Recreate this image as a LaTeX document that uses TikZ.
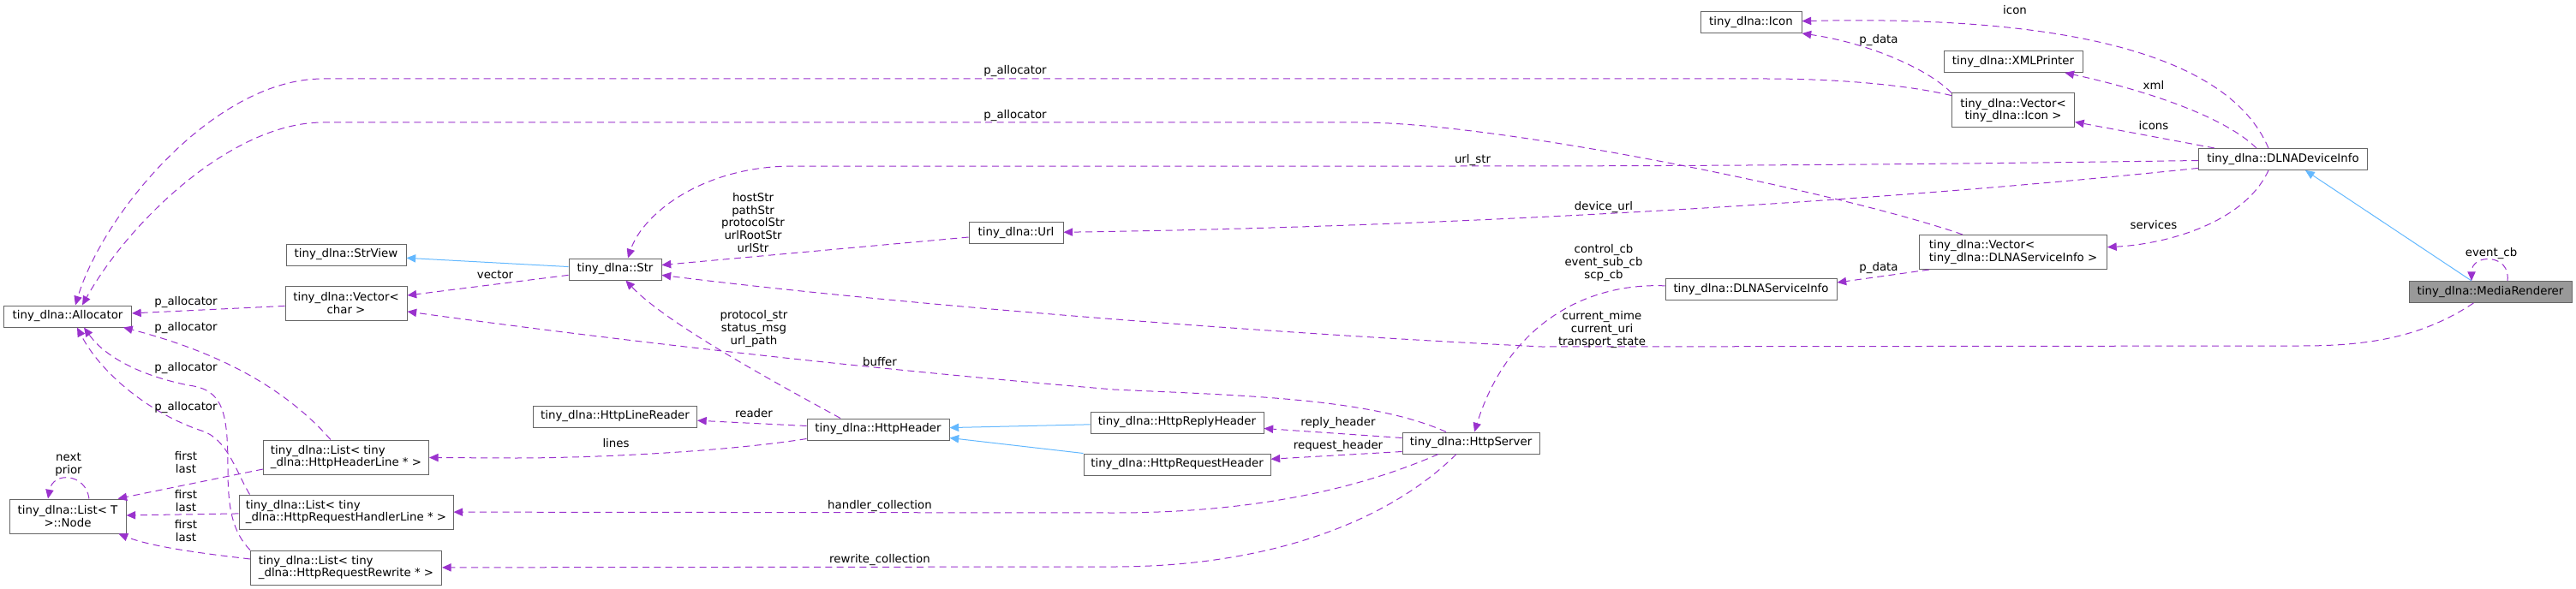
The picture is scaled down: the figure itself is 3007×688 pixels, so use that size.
\documentclass[tikz,border=0pt]{standalone}
\usepackage{fontspec}
\setmainfont{DejaVu Sans}
\usetikzlibrary{arrows.meta,calc}
\definecolor{usecol}{HTML}{9A32CD}
\definecolor{inhcol}{HTML}{63B8FF}
\definecolor{boxline}{HTML}{666666}
\definecolor{mainfill}{HTML}{999999}
\begin{document}
\begin{tikzpicture}[x=0.75pt,y=-0.75pt,
  font=\fontsize{10pt}{11pt}\selectfont,
  cls/.style={draw=boxline,fill=white,line width=0.75pt,inner sep=2pt,minimum height=18.75pt},
  cls2/.style={cls,minimum height=30pt},
  maincls/.style={cls,fill=mainfill},
  lbl/.style={inner sep=0pt,align=center},
  uses/.style={color=usecol,line width=0.75pt,dash pattern=on 6pt off 4pt,-{Triangle[length=8pt,width=7pt]}},
  inherit/.style={color=inhcol,line width=0.75pt,-{Triangle[length=8pt,width=7pt]}}]
 \useasboundingbox (0,0) rectangle (3007,688);
 % classes
 \node[cls,minimum width=111.75pt] (alloc) at (79,369.5) {tiny\_dlna::Allocator};
 \node[cls2,minimum width=102pt,align=center] (listnode) at (79,603) {tiny\_dlna::List< T\\>::Node};
 \node[cls,minimum width=105pt] (strview) at (404,297.5) {tiny\_dlna::StrView};
 \node[cls2,minimum width=106.5pt,align=center] (vecchar) at (404,354) {tiny\_dlna::Vector<\\char >};
 \node[cls2,minimum width=144.75pt,align=left] (listhdr) at (404,534) {tiny\_dlna::List< tiny\\\_dlna::HttpHeaderLine * >};
 \node[cls2,minimum width=187.5pt,align=left] (listhandler) at (404,598) {tiny\_dlna::List< tiny\\\_dlna::HttpRequestHandlerLine * >};
 \node[cls2,minimum width=167.25pt,align=left] (listrewrite) at (404,663) {tiny\_dlna::List< tiny\\\_dlna::HttpRequestRewrite * >};
 \node[cls,minimum width=81pt] (str) at (718,314.5) {tiny\_dlna::Str};
 \node[cls,minimum width=82.5pt] (url) at (1186,272) {tiny\_dlna::Url};
 \node[cls,minimum width=143.25pt] (linereader) at (718,486.5) {tiny\_dlna::HttpLineReader};
 \node[cls,minimum width=124.5pt] (header) at (1025,501.5) {tiny\_dlna::HttpHeader};
 \node[cls,minimum width=151.5pt] (replyhdr) at (1374,493.5) {tiny\_dlna::HttpReplyHeader};
 \node[cls,minimum width=163.5pt] (requesthdr) at (1374,542.5) {tiny\_dlna::HttpRequestHeader};
 \node[cls,minimum width=120pt] (server) at (1717,517.5) {tiny\_dlna::HttpServer};
 \node[cls,minimum width=150pt] (serviceinfo) at (2044,338) {tiny\_dlna::DLNAServiceInfo};
 \node[cls2,minimum width=164.25pt,align=left] (vecservice) at (2350,294.5) {tiny\_dlna::Vector<\\tiny\_dlna::DLNAServiceInfo >};
 \node[cls,minimum width=88.5pt] (icon) at (2044,26) {tiny\_dlna::Icon};
 \node[cls,minimum width=121.5pt] (xml) at (2350,72) {tiny\_dlna::XMLPrinter};
 \node[cls2,minimum width=107.25pt,align=center] (vecicon) at (2350,129) {tiny\_dlna::Vector<\\tiny\_dlna::Icon >};
 \node[cls,minimum width=147.75pt] (device) at (2665,186) {tiny\_dlna::DLNADeviceInfo};
 \node[maincls,minimum width=142.5pt] (renderer) at (2907,341) {tiny\_dlna::MediaRenderer};
 % inheritance
 \draw[inherit] ($(renderer.north)+(-22,0)$) -- ($(device.south)+(26,0)$);
 \draw[inherit] (str) -- (strview);
 \draw[inherit] (replyhdr) -- (header);
 \draw[inherit] (requesthdr.north west) -- ($(header.east)+(0,10)$);
 % members
 \draw[uses] (vecicon) .. controls (2230,100) and (2150,92) .. (2062,92) -- (377,92) .. controls (250,92) and (120,250) .. ($(alloc.north)+(9,0)$);
 \draw[uses] (vecservice) .. controls (2150,225) and (1750,143) .. (1587,143) -- (377,143) .. controls (270,143) and (150,260) .. ($(alloc.north)+(17,0)$);
 \draw[uses] (device) .. controls (2200,193) and (1900,194) .. (1700,194) -- (926,194) .. controls (820,194) and (750,250) .. ($(str.north)+(15,0)$);
 \draw[uses] (device) .. controls (2200,235) and (1700,265) .. (url);
 \draw[uses] ($(device.north)+(-17,0)$) .. controls (2600,60) and (2400,18) .. (icon);
 \draw[uses] (vecicon.north west) .. controls (2250,80) and (2180,50) .. (icon.south east);
 \draw[uses] ($(device.north)+(-31,0)$) .. controls (2590,130) and (2480,100) .. (xml);
 \draw[uses] ($(device.north)+(-80,0)$) -- (vecicon);
 \draw[uses] ($(device.south)+(-17,0)$) .. controls (2620,260) and (2530,285) .. (vecservice);
 \draw[uses] ($(vecservice.south west)+(12,0)$) -- ($(serviceinfo.east)+(0,-8)$);
 \draw[uses] ($(renderer.north)+(20,0)$) .. controls +(4,-32) and +(0,-32) .. ($(renderer.north)+(-22,0)$);
 \draw[uses] (serviceinfo) .. controls (1850,330) and (1760,380) .. (server);
 \draw[uses] (renderer) .. controls (2830,392) and (2770,404) .. (2687,404) -- (1800,405) .. controls (1400,385) and (1000,350) .. (str);
 \draw[uses] (server) .. controls (1600,465) and (1450,462) .. (1300,455) .. controls (1000,430) and (700,395) .. (vecchar);
 \draw[uses] (str) -- (vecchar);
 \draw[uses] (vecchar) -- (alloc);
 \draw[uses] (listhdr) .. controls (330,450) and (250,410) .. ($(alloc.south east)+(-10,0)$);
 \draw[uses] ($(listhandler.north west)+(13,0)$) .. controls (275,550) and (265,512) .. (235,503) .. controls (180,485) and (120,440) .. ($(alloc.south)+(11,0)$);
 \draw[uses] (listrewrite.north west) .. controls (270,620) and (266,590) .. (266,547) .. controls (266,480) and (260,455) .. (220,450) .. controls (170,440) and (125,420) .. ($(alloc.south)+(19,0)$);
 \draw[uses] ($(listnode.north)+(25,0)$) .. controls +(-4,-30) and +(6,-32) .. ($(listnode.north)+(-23,0)$);
 \draw[uses] ($(listhdr.west)+(0,14)$) -- ($(listnode.north east)+(-10,0)$);
 \draw[uses] (listhandler) -- (listnode);
 \draw[uses] ($(listrewrite.west)+(0,-10)$) .. controls (250,648) and (180,640) .. ($(listnode.south east)+(-9,0)$);
 \draw[uses] ($(header.west)+(0,11)$) .. controls (850,527) and (700,535) .. (600,535) -- (listhdr);
 \draw[uses] ($(header.west)+(0,-4)$) -- (linereader);
 \draw[uses] ($(header.north)+(-44,0)$) .. controls (920,455) and (780,380) .. (str);
 \draw[uses] ($(server.west)+(0,-6)$) -- (replyhdr);
 \draw[uses] ($(server.west)+(0,10)$) -- (requesthdr);
 \draw[uses] ($(server.south)+(-38,0)$) .. controls (1600,565) and (1480,599) .. (1300,599) -- (listhandler);
 \draw[uses] ($(server.south)+(-17,0)$) .. controls (1620,610) and (1480,662) .. (1300,662) -- (listrewrite);
 \draw[uses] (url) -- (str);
 % labels
 \node[lbl] (lpa1) at (1185,83) {p\_allocator};
 \node[lbl] (lpa2) at (1185,135) {p\_allocator};
 \node[lbl] (lurlstr) at (1719,187) {url\_str};
 \node[lbl] (ldevurl) at (1872,242) {device\_url};
 \node[lbl] (licon) at (2352,12) {icon};
 \node[lbl] (lpdata1) at (2193,47) {p\_data};
 \node[lbl] (lxml) at (2514,99) {xml};
 \node[lbl] (licons) at (2514,147) {icons};
 \node[lbl] (lservices) at (2514,263) {services};
 \node[lbl] (lpdata2) at (2193,313) {p\_data};
 \node[lbl] (levent) at (2908,296) {event\_cb};
 \node[lbl] (lcb) at (1872,307) {control\_cb\\event\_sub\_cb\\scp\_cb};
 \node[lbl] (lcur) at (1870,385) {current\_mime\\current\_uri\\transport\_state};
 \node[lbl] (lbuffer) at (1027,423) {buffer};
 \node[lbl] (lvector) at (578,321) {vector};
 \node[lbl] (lpa3) at (217,353) {p\_allocator};
 \node[lbl] (lpa4) at (217,383) {p\_allocator};
 \node[lbl] (lpa5) at (217,430) {p\_allocator};
 \node[lbl] (lpa6) at (217,476) {p\_allocator};
 \node[lbl] (lnext) at (80,543) {next\\prior};
 \node[lbl] (lfl1) at (217,540) {first\\last};
 \node[lbl] (lfl2) at (217,585) {first\\last};
 \node[lbl] (lfl3) at (217,620) {first\\last};
 \node[lbl] (llines) at (719,518) {lines};
 \node[lbl] (lreader) at (880,483) {reader};
 \node[lbl] (lproto) at (880,384) {protocol\_str\\status\_msg\\url\_path};
 \node[lbl] (lreply) at (1562,494) {reply\_header};
 \node[lbl] (lrequest) at (1562,521) {request\_header};
 \node[lbl] (lhandler) at (1027,591) {handler\_collection};
 \node[lbl] (lrewrite) at (1027,654) {rewrite\_collection};
 \node[lbl] (lhost) at (879,260) {hostStr\\pathStr\\protocolStr\\urlRootStr\\urlStr};
\end{tikzpicture}
\end{document}
